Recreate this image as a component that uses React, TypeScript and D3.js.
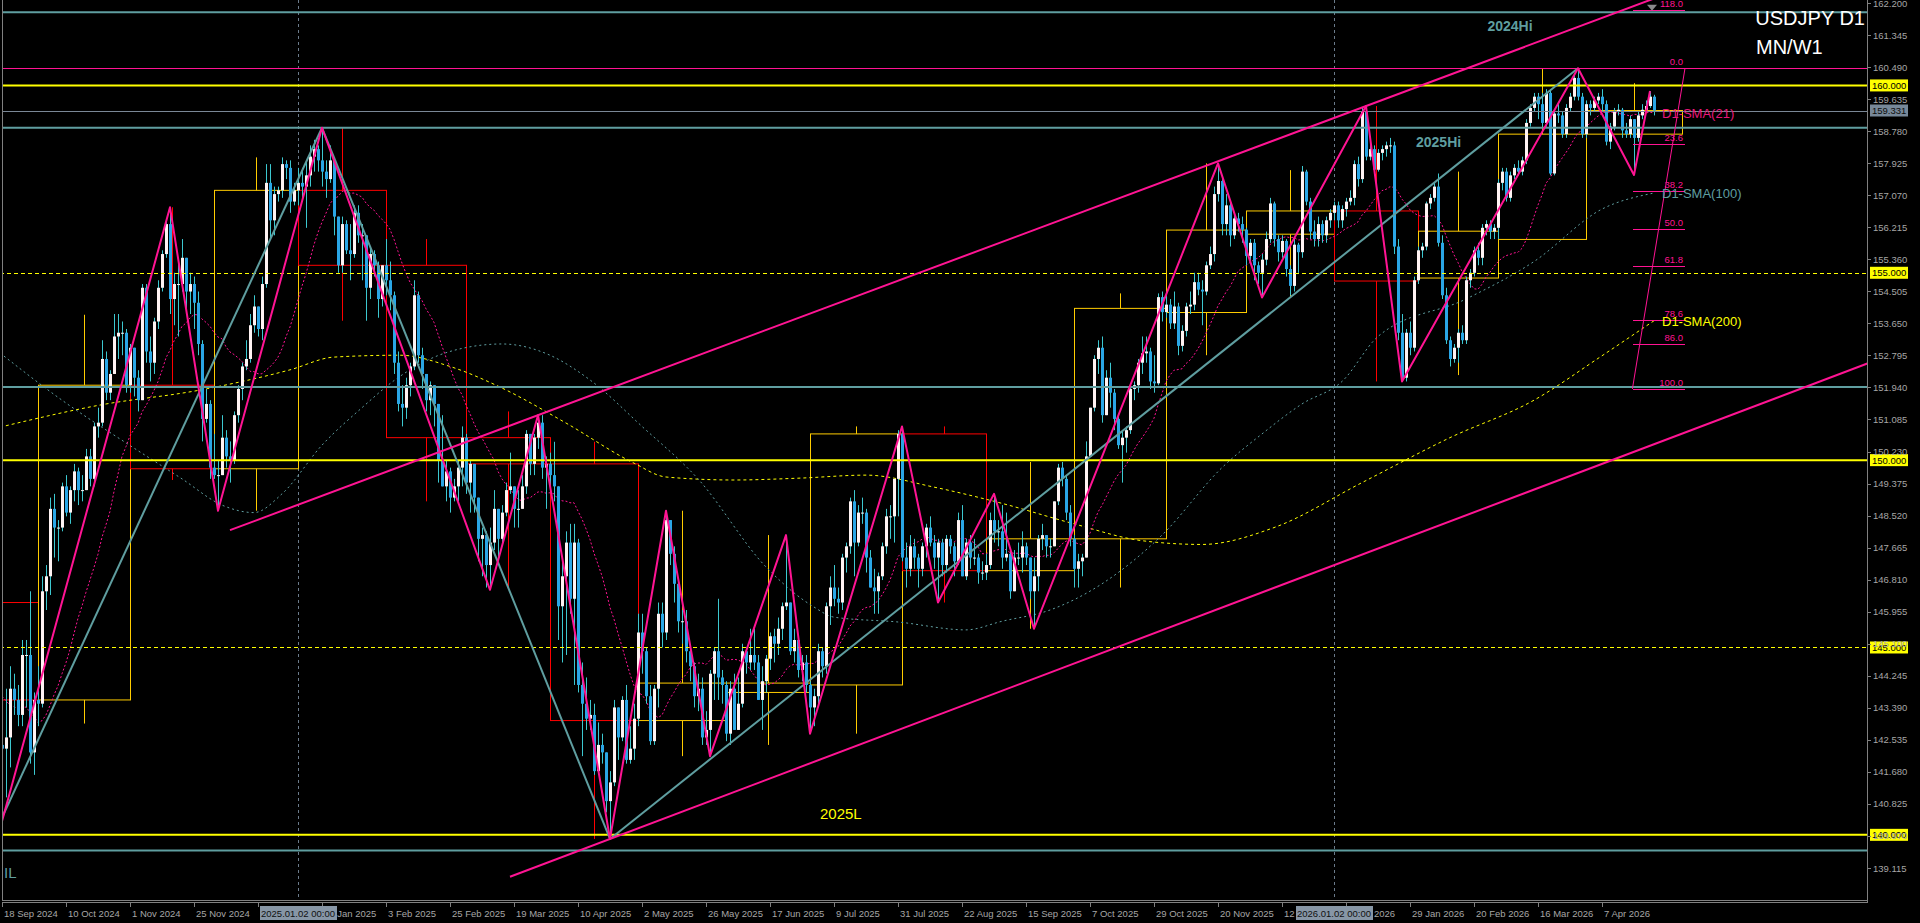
import React from "react";
import * as d3 from "d3";

// daily candles [high, low, close]; open = previous close
const firstOpen = 142.4;
const sep24 = [[142.5,140.5,142.3],[143.9,141.0,142.6],[144.5,141.8,143.9],[144.3,143.2,143.6],[144.0,142.9,143.2],[145.2,142.9,144.8],[145.2,143.4,144.8],[146.5,141.9,142.2],[143.8,141.6,143.6]];
const oct24 = [[144.5,142.9,143.5],[146.9,143.4,146.5],[147.2,146.0,146.9],[149.0,146.4,148.7],[149.1,147.4,148.2],[148.4,147.3,148.2],[149.4,148.1,149.3],[149.6,148.5,148.6],[149.3,148.3,149.2],[149.9,148.9,149.7],[149.8,148.8,149.2],[149.6,148.9,149.2],[150.3,149.2,150.1],[150.3,149.3,149.5],[151.0,149.3,150.9],[151.4,150.6,151.0],[153.2,150.9,152.7],[152.9,151.6,151.8],[152.4,151.6,152.3],[153.9,152.6,153.3],[153.9,152.7,153.4],[153.7,152.8,153.4],[153.5,151.8,152.0]];
const nov24 = [[153.1,151.8,153.0],[153.0,151.7,152.2],[152.4,151.3,151.6],[154.7,151.6,154.6],[154.7,152.6,152.9],[153.3,152.1,152.6],[153.8,152.3,153.7],[154.8,153.5,154.6],[155.6,154.5,155.5],[156.4,155.4,156.3],[156.75,153.9,154.3],[155.0,153.6,154.7],[155.3,153.3,154.7],[155.9,154.5,155.4],[155.1,154.0,154.5],[155.0,153.9,154.7],[154.9,153.5,154.2],[154.5,152.8,153.1],[153.2,150.5,151.1],[151.9,151.0,151.5],[151.6,149.5,149.8]];
const dec24 = [[150.7,149.5,149.6],[150.0,148.65,149.6],[151.2,149.6,150.6],[150.8,149.8,150.1],[150.5,149.4,150.0],[151.3,149.9,151.2],[152.0,151.0,151.9],[152.6,151.6,152.5],[153.2,152.4,152.7],[153.9,152.6,153.6],[154.4,153.4,154.1],[154.1,153.3,153.5],[154.9,153.2,154.7],[157.9,154.6,157.4],[157.9,155.9,156.4],[157.3,156.0,157.1],[157.3,156.9,157.2],[158.08,157.0,157.9],[158.0,157.5,157.8],[158.0,156.6,156.9],[157.4,156.8,157.2]];
const jan25 = [[157.8,156.8,157.4],[157.8,156.9,157.3],[158.0,156.2,157.6],[158.4,157.3,158.1],[158.55,157.7,158.3],[158.4,157.7,158.0],[158.87,157.3,157.7],[158.0,157.0,157.5],[158.4,157.4,158.0],[158.0,156.0,156.5],[156.5,155.0,155.2],[156.5,155.0,156.3],[156.4,155.5,155.6],[156.3,154.8,155.5],[156.8,155.4,156.6],[156.8,155.8,156.0],[156.3,154.8,156.0],[155.9,153.72,154.6],[155.7,154.3,155.5],[155.6,154.9,155.2],[155.3,153.8,154.3],[155.2,154.1,155.2]];
const feb25 = [[155.9,154.4,154.8],[155.3,154.0,154.4],[154.5,152.3,152.6],[152.9,151.3,151.5],[152.0,150.9,151.4],[152.2,151.1,152.0],[152.6,151.7,152.5],[154.8,152.4,154.4],[154.5,152.6,152.8],[153.0,151.9,152.3],[152.0,151.3,151.6],[152.1,151.2,152.0],[152.0,150.9,151.5],[151.1,149.4,150.0],[151.2,149.3,149.3],[150.0,148.9,149.7],[149.8,148.6,149.0],[149.5,148.9,149.3],[150.0,148.9,149.8],[150.9,149.3,150.6]];
const mar25 = [[150.7,149.1,149.4],[150.0,148.6,149.9],[149.9,148.6,149.0],[149.0,147.3,147.9],[148.2,146.9,148.0],[148.1,146.6,147.2],[148.2,146.54,147.8],[149.2,147.6,148.7],[148.7,147.4,147.9],[148.8,147.8,148.6],[149.4,148.5,149.2],[150.2,149.1,149.3],[149.3,148.2,148.7],[149.2,148.2,148.7],[149.6,148.8,149.3],[150.8,149.1,150.7],[150.6,149.6,149.9],[150.7,149.6,150.6],[151.2,150.3,151.0],[151.2,149.5,149.8],[150.1,148.7,149.9]];
const apr25 = [[150.2,149.2,149.6],[150.49,148.9,149.3],[149.3,145.2,146.1],[147.3,144.6,146.9],[148.1,144.8,147.8],[148.3,145.9,146.3],[148.3,144.0,147.8],[147.9,143.8,144.0],[144.6,142.1,143.5],[144.2,142.8,143.1],[143.6,142.8,143.2],[143.5,141.6,141.7],[143.0,141.6,142.4],[142.7,141.9,142.2],[142.0,140.6,140.9],[141.7,139.89,141.4],[143.6,141.3,143.4],[143.3,142.0,142.6],[143.7,142.5,143.6],[144.0,141.9,142.0],[142.9,141.9,142.3],[143.5,142.0,143.1]];
const may25 = [[145.9,142.9,145.4],[145.9,144.3,144.9],[145.0,143.5,143.7],[144.0,142.4,142.5],[144.0,142.4,143.9],[146.2,143.4,145.9],[146.2,145.0,145.4],[148.65,145.2,148.4],[148.4,147.2,147.5],[147.7,146.2,146.7],[146.7,145.4,145.7],[146.0,145.1,145.7],[146.0,144.6,144.9],[145.0,144.1,144.5],[144.6,143.4,143.7],[144.3,143.3,143.9],[144.2,142.4,142.6],[143.3,142.4,142.8],[144.4,142.1,144.3],[145.0,143.6,144.9],[146.3,143.6,144.2],[144.4,143.5,144.0]];
const jun25 = [[144.1,142.5,142.7],[144.1,142.4,143.9],[144.3,142.8,142.8],[144.2,142.9,143.5],[145.1,143.4,144.9],[145.0,144.3,144.6],[145.5,144.4,144.8],[145.5,144.4,144.6],[144.8,143.6,143.6],[144.5,142.8,144.1],[144.8,143.8,144.7],[145.4,144.4,145.3],[145.5,144.6,145.1],[145.8,144.8,145.5],[146.2,145.2,146.1],[148.0,146.0,146.2],[146.2,144.8,144.9],[145.5,144.6,145.2],[145.3,144.2,144.4],[144.8,144.1,144.6],[144.8,143.8,144.0]];
const jul25 = [[144.1,142.7,143.4],[143.9,142.9,143.7],[145.1,143.5,144.9],[145.0,144.2,144.5],[146.2,144.3,146.1],[146.9,145.6,146.6],[147.2,146.1,146.3],[146.6,145.9,146.2],[147.5,146.0,147.4],[147.8,147.0,147.7],[149.0,147.5,148.9],[149.2,146.9,147.8],[148.8,147.7,148.6],[149.0,148.3,148.6],[148.7,147.0,147.4],[147.6,146.6,146.6],[147.1,145.9,146.5],[147.0,145.9,146.9],[147.8,146.8,147.7],[148.7,147.5,148.5],[148.8,147.9,148.5],[149.5,147.8,149.5],[150.8,148.5,150.7]];
const aug25 = [[150.9,147.3,147.4],[147.8,146.6,147.1],[148.0,146.9,147.7],[147.9,147.1,147.4],[147.5,146.6,147.1],[147.8,146.9,147.7],[148.3,147.4,148.2],[148.5,147.7,147.8],[148.0,147.1,147.4],[147.9,146.2,147.8],[147.9,146.9,147.2],[148.0,147.0,147.9],[148.0,147.5,147.7],[147.8,146.9,147.3],[148.6,147.2,148.4],[148.8,146.9,146.9],[147.9,146.8,147.8],[148.0,147.1,147.4],[147.9,147.2,147.4],[147.5,146.7,147.0],[147.3,146.8,147.0]];
const sep25 = [[147.5,146.8,147.2],[148.6,147.1,148.4],[149.1,147.8,148.1],[148.4,147.7,148.1],[148.8,147.1,147.4],[148.6,147.3,147.5],[147.6,146.3,146.5],[147.6,146.5,147.4],[147.8,147.2,147.4],[148.1,147.0,147.7],[147.8,147.2,147.4],[147.4,146.3,146.5],[147.4,145.5,146.9],[148.0,146.5,147.9],[148.3,147.6,148.0],[148.0,147.4,147.7],[147.9,147.4,147.7],[148.9,147.7,148.9],[149.9,148.8,149.8],[149.95,149.3,149.5],[149.6,148.4,148.6],[148.8,147.7,147.9]];
const oct25 = [[148.0,146.6,147.1],[147.5,146.6,147.3],[147.5,146.9,147.4],[150.5,147.9,150.1],[151.4,150.2,151.4],[152.8,151.3,152.7],[153.2,152.3,153.0],[153.3,151.0,151.2],[152.4,151.5,152.2],[152.6,151.4,151.8],[151.9,150.8,151.1],[151.2,150.3,150.4],[150.8,149.4,150.6],[150.9,150.2,150.8],[152.0,150.7,151.9],[152.1,151.6,152.0],[152.7,151.8,152.6],[153.3,152.3,152.85],[153.3,152.6,152.9],[153.0,151.9,152.1],[152.8,151.8,152.05],[154.45,152.0,154.35],[154.5,153.7,153.95]];
const nov25 = [[154.5,153.8,154.15],[154.3,153.5,153.65],[154.5,153.5,154.1],[154.2,152.8,153.05],[153.6,152.9,153.45],[154.2,153.3,154.1],[154.5,153.9,154.15],[155.0,154.0,154.75],[155.0,154.4,154.55],[154.8,153.6,154.5],[155.3,154.4,155.2],[155.7,155.1,155.5],[157.3,155.3,157.1],[157.92,156.9,157.45],[157.5,156.0,156.3],[157.1,156.0,156.8],[156.9,155.7,156.0],[156.6,155.9,156.45],[156.6,156.1,156.3],[156.5,155.8,156.15]];
const dec25 = [[156.2,155.2,155.45],[155.9,155.3,155.8],[155.9,154.8,155.2],[155.3,154.7,155.0],[155.5,154.35,155.35],[156.1,155.2,155.9],[157.0,155.8,156.85],[156.9,155.7,155.9],[156.0,155.3,155.55],[156.0,155.4,155.85],[155.9,154.9,155.1],[155.2,154.4,154.65],[155.9,154.5,155.75],[155.8,155.0,155.55],[157.85,155.4,157.7],[157.75,156.8,156.9],[157.0,155.9,156.1],[156.4,155.7,155.9],[156.5,155.7,156.3],[156.4,155.8,156.0],[156.5,155.8,156.4],[156.7,156.2,156.6]];
const jan26 = [[156.9,156.4,156.8],[156.9,156.2,156.4],[156.8,156.2,156.7],[157.0,156.5,156.9],[157.2,156.8,157.0],[158.0,156.8,157.9],[158.1,157.3,157.5],[159.4,157.4,159.3],[159.45,158.0,158.1],[158.6,158.0,158.3],[158.4,157.6,157.75],[158.3,157.7,158.2],[158.4,158.0,158.3],[158.5,158.1,158.4],[158.6,158.2,158.4],[158.5,155.5,155.7],[155.9,153.2,153.4],[153.9,152.1,152.2],[153.5,152.1,153.4],[153.7,152.8,153.0],[154.9,152.9,154.8]];
const feb26 = [[155.7,154.7,155.6],[155.8,155.4,155.7],[156.9,155.6,156.85],[157.1,156.7,157.0],[157.4,156.9,157.3],[157.65,155.7,155.8],[156.0,154.3,154.4],[154.6,153.1,153.2],[153.3,152.5,152.7],[153.1,152.6,153.0],[153.5,152.6,153.4],[153.6,153.1,153.2],[154.9,153.1,154.8],[155.1,154.6,155.0],[155.7,154.9,155.6],[155.8,155.2,155.4],[156.3,155.2,156.2],[156.4,156.0,156.3],[156.4,155.9,156.1],[156.3,155.9,156.2]];
const mar26 = [[157.5,155.9,157.4],[157.8,157.2,157.7],[157.8,156.9,157.0],[157.7,156.9,157.6],[157.9,157.5,157.8],[158.0,157.6,157.7],[158.1,157.6,158.0],[159.1,157.9,159.0],[159.5,158.9,159.4],[159.8,159.3,159.7],[159.8,159.1,159.5],[159.8,158.9,159.0],[159.9,158.9,159.8],[159.9,157.6,157.65],[159.35,157.6,159.25],[159.5,159.0,159.2],[159.3,158.6,158.7],[159.5,158.6,159.4],[159.8,159.3,159.7],[160.3,159.6,160.2],[160.46,159.6,159.7],[159.8,158.6,158.7]];
const apr26 = [[159.6,158.6,159.5],[159.6,159.2,159.4],[159.7,159.3,159.6],[159.8,159.5,159.7],[159.9,159.3,159.5],[159.6,158.4,158.5],[159.0,158.3,158.9],[159.4,158.8,159.3],[159.5,159.2,159.35],[159.4,158.6,158.8],[159.0,158.6,158.7],[159.2,158.6,159.1],[159.1,157.61,158.6],[159.3,158.5,159.2],[159.5,159.1,159.35],[159.6,159.3,159.45],[159.85,159.4,159.7],[159.75,159.2,159.33]];

// closes before the first visible bar (for SMA 21)
const preCloses = [145.3,146.3,144.4,144.5,144.0,144.6,144.9,146.2,146.9,145.4,143.7,143.4,142.3,143.1,142.5,142.4,141.8,140.8,140.6,142.4];

// SMA(100) / SMA(200) [bar, price]
const sma100 = [[-0.5,152.86],[15,151.6],[31,150.46],[45,149.5],[55,148.8],[63,148.6],[70,149.1],[80,150.4],[90,151.4],[99,152.2],[112,152.9],[125,153.1],[137,152.8],[147,152.14],[160,150.9],[174,149.5],[191,147.15],[203,146.08],[208,145.81],[224,145.68],[241,145.47],[250,145.7],[262,146.0],[275,146.7],[290,148.0],[305,149.8],[315,150.7],[325,151.5],[335,152.1],[344,153.3],[366,154.3],[383,155.3],[400,156.7],[413,157.13]];
const sma200 = [[-0.5,150.88],[24.5,151.47],[49.5,151.87],[72,152.41],[83,152.75],[99.5,152.8],[112,152.5],[124.5,151.95],[141,150.99],[158,149.92],[166,149.55],[183,149.47],[199.5,149.52],[216,149.6],[233,149.28],[249.5,148.86],[268,148.3],[285,147.85],[300,147.75],[318,148.2],[340,149.4],[362,150.6],[383,151.6],[399.5,152.75],[413,153.72]];

// monthly candles [first bar, open, high, low, close]
const monthly = [[-12,146.2,147.2,139.58,143.6],[9,143.6,153.88,142.97,152.0],[32,152.0,156.75,149.47,149.77],[53,149.77,158.08,148.65,157.2],[74,157.2,158.87,153.72,155.2],[96,155.2,155.9,148.9,150.6],[116,150.6,151.3,146.54,149.9],[137,149.9,150.49,139.89,143.05],[159,143.05,148.65,142.1,144.05],[181,143.8,148.0,142.4,144.05],[202,144.0,150.9,142.7,150.7],[225,150.7,150.9,146.2,147.05],[246,147.05,149.95,145.5,147.9],[268,147.9,154.45,146.6,154.05],[291,153.94,157.92,152.8,156.14],[311,156.03,157.74,154.36,156.65],[333,156.65,159.45,152.1,154.78],[354,154.86,157.7,152.27,156.11],[374,155.89,160.46,155.89,158.7],[396,158.7,160.06,157.61,159.33]];
const monthlyEnd = 420;

const zigzag = [[-2,139.58],[42,156.75],[54,148.65],[80,158.87],[122,146.54],[134,151.2],[152,139.89],[166,148.65],[177,142.1],[196,148.0],[202,142.7],[225,150.9],[234,146.2],[248,149.1],[258,145.5],[304,157.92],[315,154.34],[341,159.45],[350,152.1],[394,160.46],[408,157.61],[412,159.85]];
const cyanTrends = [[[-2,140.0],[80,158.87]],[[80,158.87],[152,139.89]],[[152,139.89],[394,160.46]]];
// channel: two anchor points and drawn extent (bars)
const upperChannel = { a: [134,151.2], b: [341,159.45], from: 57, to: 430 };
const lowerChannel = { a: [152,139.89], b: [400,149.9], from: 127, to: 470 };

const cyanLevels = [161.95, 158.87, 151.95, 139.58];
const yellowSolid = [160, 150, 140];
const yellowDashed = [155, 145];
const pinkLevel = 160.465;
const bidPrice = 159.331;

const fibHigh = 160.46, fibLow = 151.9;
const fibLevels = [0, 23.6, 38.2, 50, 61.8, 78.6, 86, 100];
const fibExt = 118;
const fibSpan = [407.75, 420.75];

const priceTicks = [162.2,161.345,160.49,159.635,158.78,157.925,157.07,156.215,155.36,154.505,153.65,152.795,151.94,151.085,150.23,149.375,148.52,147.665,146.81,145.955,145.1,144.245,143.39,142.535,141.68,140.825,139.97,139.115];
const markedPrices = [160, 155, 150, 145, 140];
const timeTicks: [number, string][] = [[0,"18 Sep 2024"],[16,"10 Oct 2024"],[32,"1 Nov 2024"],[48,"25 Nov 2024"],[64,"17 Dec 2024"],[80,"10 Jan 2025"],[96,"3 Feb 2025"],[112,"25 Feb 2025"],[128,"19 Mar 2025"],[144,"10 Apr 2025"],[160,"2 May 2025"],[176,"26 May 2025"],[192,"17 Jun 2025"],[208,"9 Jul 2025"],[224,"31 Jul 2025"],[240,"22 Aug 2025"],[256,"15 Sep 2025"],[272,"7 Oct 2025"],[288,"29 Oct 2025"],[304,"20 Nov 2025"],[320,"12 Dec 2025"],[336,"7 Jan 2026"],[352,"29 Jan 2026"],[368,"20 Feb 2026"],[384,"16 Mar 2026"],[400,"7 Apr 2026"]];
const periodLines: [number, string][] = [[74,"2025.01.02 00:00"],[333,"2026.01.02 00:00"]];

const CYAN = "#5f9ea0", PINK = "#ff1493", YEL = "#ffff00", GOLD = "#ffcc00", RED = "#ff0000";
const AXIS = "#a6a6a6";
const FONT = "'Liberation Sans', Arial, sans-serif";

export default function App() {
  const x = d3.scaleLinear().domain([0, 400]).range([2, 1602]);
  const y = d3.scaleLinear().domain([139.115, 162.2]).range([868, 3]);
  const plotR = 1867, plotB = 901;

  const rows = [sep24,oct24,nov24,dec24,jan25,feb25,mar25,apr25,may25,jun25,jul25,aug25,sep25,oct25,nov25,dec25,jan26,feb26,mar26,apr26].flat();
  let prev = firstOpen;
  const candles = rows.map(([h, l, c], i) => {
    const o = prev; prev = c;
    return { i, o, c, h: Math.max(h, o, c), l: Math.min(l, o, c) };
  });

  const allCloses = preCloses.concat(candles.map(d => d.c));
  const sma21 = candles.map((d, i) => [i, d3.mean(allCloses.slice(i, i + 21)) as number]);

  const line = d3.line<number[]>().x(d => x(d[0])).y(d => y(d[1]));
  const smooth = d3.line<number[]>().x(d => x(d[0])).y(d => y(d[1])).curve(d3.curveMonotoneX);

  const extend = (ch: typeof upperChannel) => {
    const s = (ch.b[1] - ch.a[1]) / (ch.b[0] - ch.a[0]);
    return [[ch.from, ch.a[1] + s * (ch.from - ch.a[0])], [ch.to, ch.a[1] + s * (ch.to - ch.a[0])]];
  };
  const fibPrice = (lv: number) => fibHigh - (fibHigh - fibLow) * lv / 100;
  const fibExtPrice = fibHigh + (fibHigh - fibLow) * (fibExt - 100) / 100;

  const last21 = sma21[sma21.length - 1][1];
  const last100 = sma100[sma100.length - 1][1];
  const last200 = sma200[sma200.length - 1][1];

  return (
    <svg width={1920} height={923} style={{ position: "absolute", left: 0, top: 0, display: "block", background: "#000" }} fontFamily={FONT}>
      <defs>
        <clipPath id="plot"><rect x={2} y={0} width={plotR - 2} height={plotB} /></clipPath>
      </defs>
      <rect width={1920} height={923} fill="#000" />
      <g clipPath="url(#plot)">
        {/* period separators */}
        {periodLines.map(([b]) => (
          <line key={b} x1={x(b) + 0.5} x2={x(b) + 0.5} y1={0} y2={plotB} stroke="#6b7b8b" strokeDasharray="3,3" />
        ))}
        {/* monthly candles as boxes */}
        {monthly.map(([b, o, h, l, c], k) => {
          const e = k + 1 < monthly.length ? monthly[k + 1][0] : monthlyEnd;
          const col = c >= o ? GOLD : RED;
          const xm = Math.round((x(b) + x(e)) / 2) + 0.5;
          return (
            <g key={b} stroke={col} fill="none">
              <line x1={xm} x2={xm} y1={y(h)} y2={y(Math.max(o, c))} />
              <line x1={xm} x2={xm} y1={y(Math.min(o, c))} y2={y(l)} />
              <rect x={x(b) + 0.5} y={y(Math.max(o, c))} width={x(e) - x(b)} height={Math.max(1, Math.abs(y(o) - y(c)))} />
            </g>
          );
        })}
        {/* moving averages */}
        <path d={smooth(sma200) || ""} fill="none" stroke={YEL} strokeDasharray="3,3" />
        <path d={smooth(sma100) || ""} fill="none" stroke={CYAN} strokeDasharray="2,3" />
        <path d={line(sma21) || ""} fill="none" stroke={PINK} strokeDasharray="2,2" />
        {/* daily candles */}
        {candles.map(d => {
          const xc = x(d.i);
          const up = d.c >= d.o;
          return (
            <g key={d.i}>
              <line x1={xc + 0.5} x2={xc + 0.5} y1={y(d.h)} y2={y(d.l)} stroke="#3cc8d0" />
              <rect x={xc - 1} y={y(Math.max(d.o, d.c))} width={3} height={Math.max(1, Math.abs(y(d.o) - y(d.c)))} fill={up ? "#fff3f3" : "#2aa6e6"} />
            </g>
          );
        })}
        {/* horizontal levels */}
        {cyanLevels.map(p => <line key={"c" + p} x1={0} x2={plotR} y1={y(p)} y2={y(p)} stroke={CYAN} strokeWidth={2} />)}
        {yellowSolid.map(p => <line key={"ys" + p} x1={0} x2={plotR} y1={y(p)} y2={y(p)} stroke={YEL} strokeWidth={2} />)}
        {yellowDashed.map(p => <line key={"yd" + p} x1={0} x2={plotR} y1={Math.round(y(p)) + 0.5} y2={Math.round(y(p)) + 0.5} stroke={YEL} strokeDasharray="4,3" />)}
        <line x1={0} x2={plotR} y1={Math.round(y(pinkLevel)) + 0.5} y2={Math.round(y(pinkLevel)) + 0.5} stroke={PINK} />
        <line x1={0} x2={plotR} y1={Math.round(y(bidPrice)) + 0.5} y2={Math.round(y(bidPrice)) + 0.5} stroke="#7a8796" />
        {/* trend lines */}
        {cyanTrends.map((t, k) => <path key={k} d={line(t) || ""} stroke={CYAN} strokeWidth={2} fill="none" />)}
        <path d={line(extend(upperChannel)) || ""} stroke={PINK} strokeWidth={2} fill="none" />
        <path d={line(extend(lowerChannel)) || ""} stroke={PINK} strokeWidth={2} fill="none" />
        <path d={line(zigzag) || ""} stroke={PINK} strokeWidth={2} fill="none" strokeLinejoin="round" />
        {/* fibonacci */}
        {fibLevels.map(lv => (
          <g key={lv}>
            <line x1={x(fibSpan[0])} x2={x(fibSpan[1])} y1={Math.round(y(fibPrice(lv))) + 0.5} y2={Math.round(y(fibPrice(lv))) + 0.5} stroke={PINK} />
            <text x={x(fibSpan[1]) - 2} y={y(fibPrice(lv)) - 3} fill={PINK} fontSize={9.5} textAnchor="end">{lv.toFixed(1)}</text>
          </g>
        ))}
        <line x1={x(fibSpan[0])} x2={x(fibSpan[1])} y1={Math.round(y(fibExtPrice)) + 0.5} y2={Math.round(y(fibExtPrice)) + 0.5} stroke={PINK} />
        <text x={x(fibSpan[1]) - 2} y={y(fibExtPrice) - 3} fill={PINK} fontSize={9.5} textAnchor="end">{fibExt.toFixed(1)}</text>
        <line x1={x(fibSpan[0] - 0.15)} y1={y(fibLow)} x2={x(fibSpan[1])} y2={y(fibHigh)} stroke={PINK} />
        <path d={`M${x(412.5) - 5},${y(162.15)} L${x(412.5) + 5},${y(162.15)} L${x(412.5)},${y(162.15) + 6} Z`} fill="#8a8a8a" />
        {/* labels on chart */}
        <text x={x(377)} y={y(161.45)} fill={CYAN} fontSize={14} fontWeight="bold" textAnchor="middle">2024Hi</text>
        <text x={x(353.5)} y={y(158.36)} fill={CYAN} fontSize={14} fontWeight="bold">2025Hi</text>
        <text x={x(204.5)} y={y(140.42)} fill={YEL} fontSize={15}>2025L</text>
        <text x={x(0.5)} y={y(138.85)} fill={CYAN} fontSize={15}>IL</text>
        <text x={x(415)} y={y(last21) + 5} fill="#e8177a" fontSize={13}>D1-SMA(21)</text>
        <text x={x(415)} y={y(last100) + 5} fill={CYAN} fontSize={13}>D1-SMA(100)</text>
        <text x={x(415)} y={y(last200) + 5} fill={YEL} fontSize={13}>D1-SMA(200)</text>
        <text x={1865} y={25} fill="#fff" fontSize={20} textAnchor="end">USDJPY D1</text>
        <text x={1756} y={54} fill="#fff" fontSize={20}>MN/W1</text>
      </g>
      {/* frame */}
      <line x1={2.5} x2={2.5} y1={0} y2={plotB} stroke="#808080" />
      <line x1={plotR + 0.5} x2={plotR + 0.5} y1={0} y2={plotB + 2} stroke="#808080" />
      <line x1={2} x2={plotR} y1={plotB - 0.5} y2={plotB - 0.5} stroke="#808080" />
      <line x1={2} x2={plotR} y1={plotB + 1.5} y2={plotB + 1.5} stroke="#808080" />
      {/* price axis */}
      {markedPrices.map(p => (
        <g key={p}>
          <rect x={1870} y={y(p) - 6} width={38} height={12} fill={YEL} />
          <text x={1872} y={y(p) + 3.5} fill="#000" fontSize={9.5}>{p.toFixed(3)}</text>
        </g>
      ))}
      <rect x={1870} y={y(bidPrice) - 6} width={38} height={12} fill="#778899" />
      <text x={1872} y={y(bidPrice) + 3.5} fill="#0c0c0c" fontSize={9.5}>{bidPrice.toFixed(3)}</text>
      {priceTicks.map(p => (
        <g key={p}>
          <line x1={plotR} x2={plotR + 4} y1={Math.round(y(p)) + 0.5} y2={Math.round(y(p)) + 0.5} stroke="#808080" />
          <text x={1873} y={y(p) + 3.5} fill={AXIS} fontSize={9.5}>{p.toFixed(3)}</text>
        </g>
      ))}
      {/* time axis */}
      {timeTicks.map(([b, t]) => (
        <g key={b}>
          <line x1={x(b) + 0.5} x2={x(b) + 0.5} y1={plotB + 2} y2={plotB + 6} stroke="#808080" />
          <text x={x(b) + 2} y={plotB + 16} fill={AXIS} fontSize={9.5}>{t}</text>
        </g>
      ))}
      {periodLines.map(([b, t]) => (
        <g key={t}>
          <rect x={x(b) - 38} y={plotB + 5} width={77} height={14} fill="#8796a6" />
          <text x={x(b)} y={plotB + 16} fill="#101010" fontSize={9.5} textAnchor="middle">{t}</text>
        </g>
      ))}
    </svg>
  );
}
